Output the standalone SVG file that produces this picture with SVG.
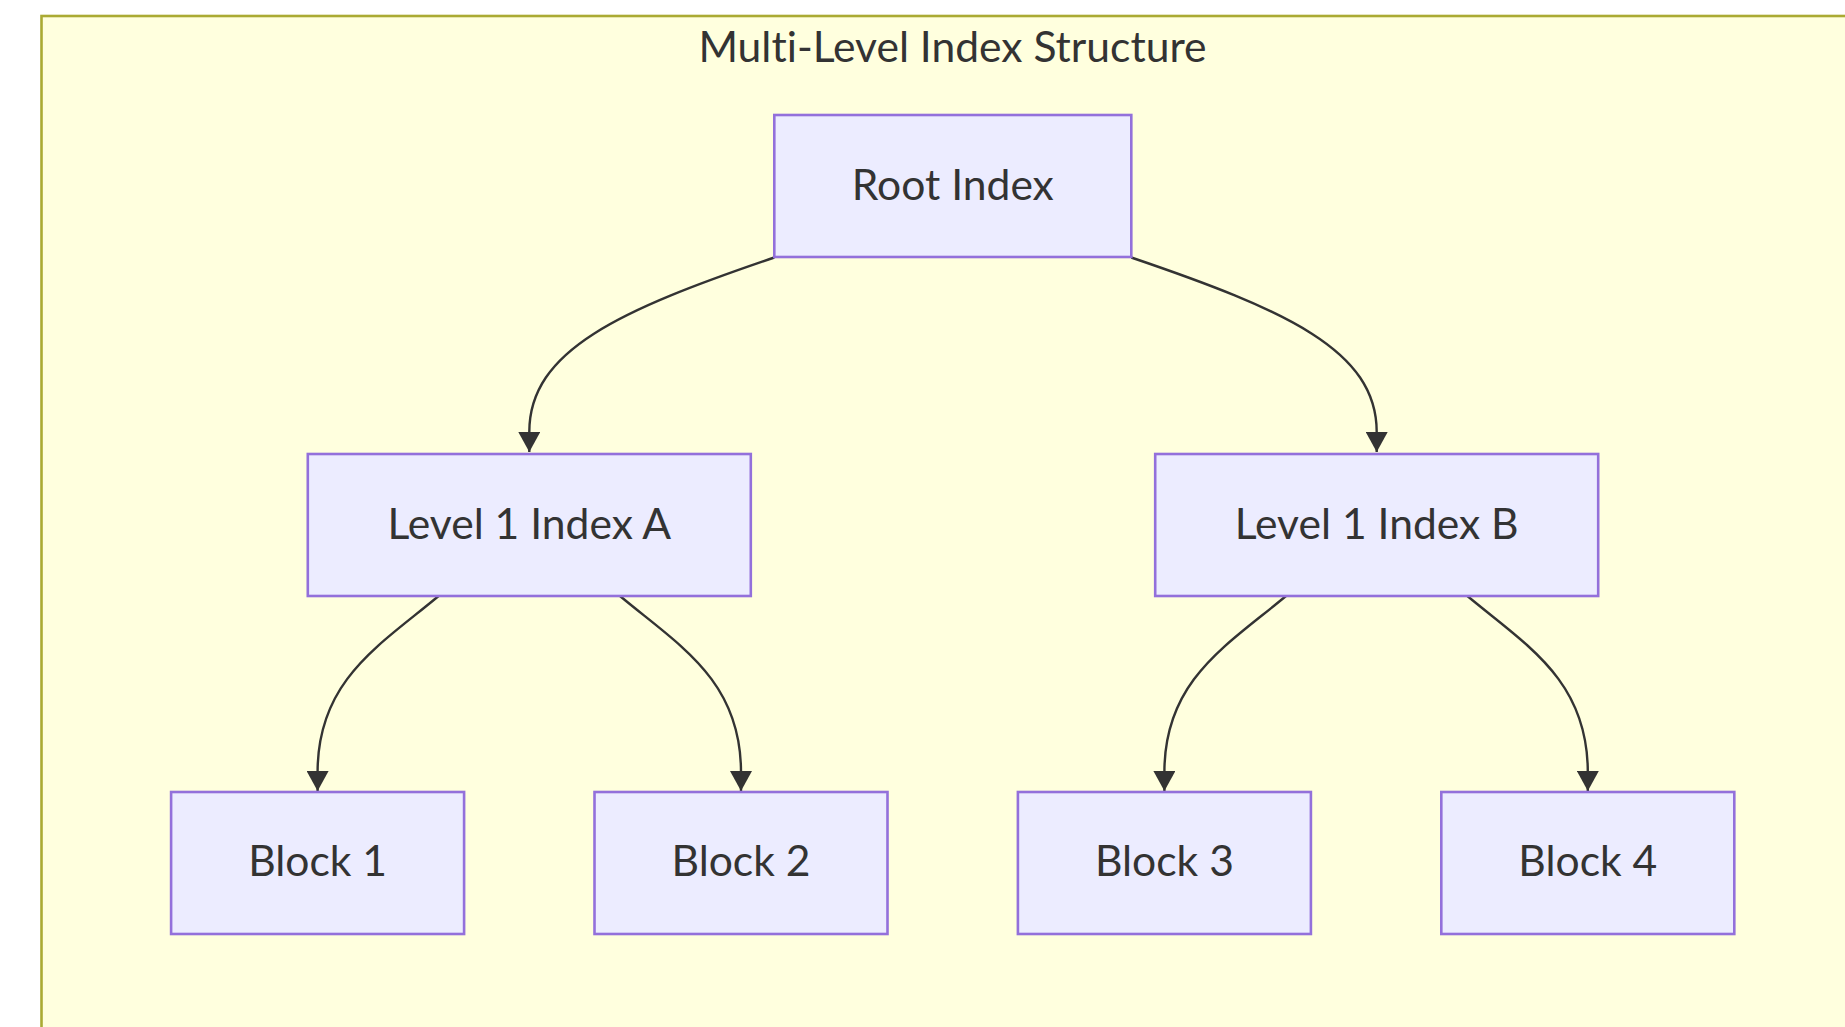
<svg xmlns="http://www.w3.org/2000/svg" width="1845" height="1027" viewBox="0 0 1845 1027">
  <style>
    .cluster { fill: #ffffde; stroke: #aaaa33; stroke-width: 2.6; }
    .node rect { fill: #ececff; stroke: #9370db; stroke-width: 2.6; }
    .label { font-family: Lato, "Liberation Sans", sans-serif; font-size: 42.6px; fill: #333333; text-anchor: middle; font-variant-ligatures: none; }
    .edge { fill: none; stroke: #333333; stroke-width: 2.4; marker-end: url(#arrow); }
  </style>
  <defs>
    <marker id="arrow" markerUnits="userSpaceOnUse" markerWidth="21" markerHeight="22" viewBox="0 0 20 22" refX="20" refY="11" orient="auto">
      <path d="M0,0 L20,11 L0,22 z" fill="#333333"/>
    </marker>
  </defs>

  <rect width="1845" height="1027" fill="#ffffff"/>

  <!-- subgraph frame -->
  <g id="cluster-index">
    <rect class="cluster" x="41.5" y="16" width="1900" height="1100"/>
    <text class="label" x="952.5" y="62">Multi-Level Index Structure</text>
  </g>

  <!-- connectors -->
  <g id="edges">
    <path class="edge" d="M774.3,257.5 C620,310 529.3,350 529.3,432 L529.3,452"/>
    <path class="edge" d="M1131.3,257.5 C1285.6,310 1376.7,350 1376.7,432 L1376.7,452"/>
    <path class="edge" d="M438.6,596 C380,645 317.6,680 317.6,772 L317.6,791"/>
    <path class="edge" d="M620,596 C678.6,645 741,680 741,772 L741,791"/>
    <path class="edge" d="M1286,596 C1227.4,645 1164.4,680 1164.4,772 L1164.4,791"/>
    <path class="edge" d="M1467.4,596 C1526,645 1587.8,680 1587.8,772 L1587.8,791"/>
  </g>

  <!-- nodes -->
  <g id="root" class="node">
    <rect x="774.3" y="115" width="357" height="142"/>
    <text class="label" x="952.8" y="199.5">Root Index</text>
  </g>
  <g id="level1A" class="node">
    <rect x="307.8" y="454" width="443" height="142"/>
    <text class="label" x="529.3" y="538.5">Level 1 Index A</text>
  </g>
  <g id="level1B" class="node">
    <rect x="1155.2" y="454" width="443" height="142"/>
    <text class="label" x="1376.7" y="538.5">Level 1 Index B</text>
  </g>
  <g id="block1" class="node">
    <rect x="171.1" y="792" width="293" height="142"/>
    <text class="label" x="317.6" y="876">Block 1</text>
  </g>
  <g id="block2" class="node">
    <rect x="594.5" y="792" width="293" height="142"/>
    <text class="label" x="741" y="876">Block 2</text>
  </g>
  <g id="block3" class="node">
    <rect x="1017.9" y="792" width="293" height="142"/>
    <text class="label" x="1164.4" y="876">Block 3</text>
  </g>
  <g id="block4" class="node">
    <rect x="1441.3" y="792" width="293" height="142"/>
    <text class="label" x="1587.8" y="876">Block 4</text>
  </g>
</svg>
